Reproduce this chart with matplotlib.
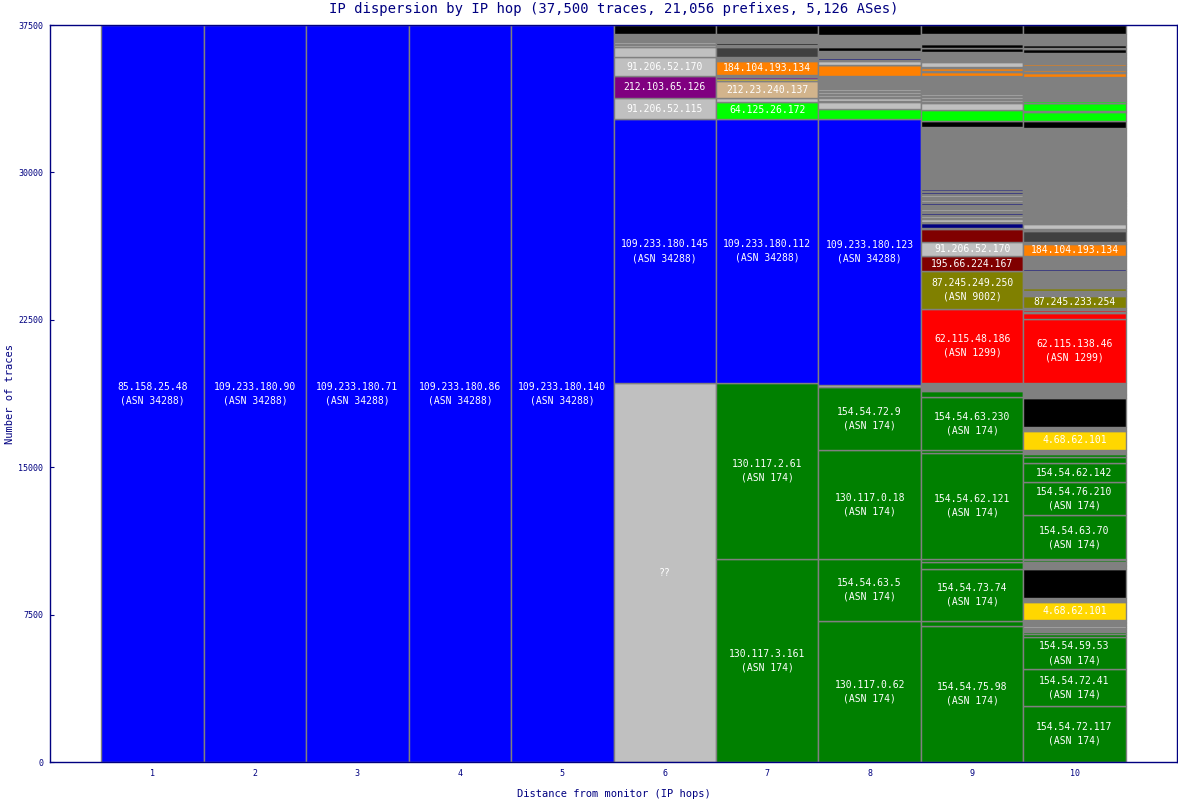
import matplotlib
matplotlib.use("Agg")
import matplotlib.pyplot as plt

# ---------------- data ----------------
hops = [1, 2, 3, 4, 5, 6, 7, 8, 9, 10]
total_traces = 37500
y_ticks = [0, 7500, 15000, 22500, 30000, 37500]

# group code -> colour (one colour per AS / category)
palette = {'b': '#0000ff', 'g': '#008000', 's': '#c0c0c0', 'G': '#808080',
           'k': '#000000', 'n': '#000080', 'r': '#ff0000', 'm': '#800000',
           'o': '#808000', 'O': '#ff8000', 'p': '#800080', 't': '#d2b48c',
           'l': '#00ff00', 'y': '#ffd700', 'd': '#404040'}

# segments per hop, bottom -> top: (traces, group, label)
hop1 = [(37500, 'b', '85.158.25.48\n(ASN 34288)')]
hop2 = [(37500, 'b', '109.233.180.90\n(ASN 34288)')]
hop3 = [(37500, 'b', '109.233.180.71\n(ASN 34288)')]
hop4 = [(37500, 'b', '109.233.180.86\n(ASN 34288)')]
hop5 = [(37500, 'b', '109.233.180.140\n(ASN 34288)')]

hop6 = [(19280, 's', '??'), (13420, 'b', '109.233.180.145\n(ASN 34288)'),
        (1100, 's', '91.206.52.115'), (1120, 'p', '212.103.65.126'),
        (935, 's', '91.206.52.170'), (540, 's', ''),
        (85, 's', ''), (75, 'G', ''), (100, 's', ''), (100, 'G', ''),
        (50, 's', ''), (230, 'G', ''), (465, 'k', '')]

hop7 = [(10330, 'g', '130.117.3.161\n(ASN 174)'), (8955, 'g', '130.117.2.61\n(ASN 174)'),
        (13420, 'b', '109.233.180.112\n(ASN 34288)'), (895, 'l', '64.125.26.172'),
        (175, 's', ''), (880, 't', '212.23.240.137'), (100, 'y', ''), (75, 'p', ''),
        (125, 'G', ''), (730, 'O', '184.104.193.134'), (60, 'G', ''), (75, 'O', ''),
        (35, 'G', ''), (540, 'd', ''), (110, 'G', ''), (75, 'k', ''),
        (460, 'G', ''), (460, 'k', '')]

hop8 = [(7175, 'g', '130.117.0.62\n(ASN 174)'), (3155, 'g', '154.54.63.5\n(ASN 174)'),
        (5530, 'g', '130.117.0.18\n(ASN 174)'), (3205, 'g', '154.54.72.9\n(ASN 174)'),
        (130, 's', ''), (13505, 'b', '109.233.180.123\n(ASN 34288)'),
        (510, 'l', ''), (380, 's', ''),
        (60, 'G', ''), (125, 's', ''), (50, 'G', ''), (125, 's', ''),
        (50, 'G', ''), (100, 's', ''), (50, 'G', ''), (75, 's', ''),
        (560, 'G', ''), (50, 'd', ''), (85, 'G', ''), (525, 'O', ''),
        (35, 'G', ''), (185, 's', ''), (35, 'G', ''), (115, 'n', ''),
        (110, 'G', ''), (50, 'd', ''), (75, 'G', ''), (50, 'd', ''),
        (65, 'G', ''), (205, 'k', ''), (60, 'G', ''), (75, 'k', ''),
        (510, 'G', ''), (475, 'k', '')]

hop9 = [(6920, 'g', '154.54.75.98\n(ASN 174)'), (270, 'g', ''),
        (2615, 'g', '154.54.73.74\n(ASN 174)'), (385, 'g', ''), (120, 'g', ''),
        (5425, 'g', '154.54.62.121\n(ASN 174)'), (120, 'g', ''),
        (2700, 'g', '154.54.63.230\n(ASN 174)'), (335, 'g', ''),
        (240, 'G', ''), (50, 'd', ''), (115, 'G', ''),
        (3750, 'r', '62.115.48.186\n(ASN 1299)'),
        (1935, 'o', '87.245.249.250\n(ASN 9002)'),
        (765, 'm', '195.66.224.167'), (710, 's', '91.206.52.170'),
        (670, 'm', ''), (50, 'G', ''), (245, 'n', ''),
        (60, 'G', ''), (150, 's', ''), (40, 'G', ''), (125, 's', ''),
        (50, 'G', ''), (90, 'n', ''), (90, 'G', ''), (125, 's', ''),
        (70, 'G', ''), (90, 'm', ''), (30, 'G', ''), (90, 'n', ''),
        (70, 'G', ''), (80, 's', ''), (50, 'G', ''), (90, 'n', ''),
        (50, 'G', ''), (90, 's', ''), (40, 'G', ''), (90, 'n', ''),
        (50, 'G', ''), (90, 'n', ''), (40, 'G', ''),
        (3140, 'G', ''), (320, 'k', ''), (530, 'l', ''), (380, 's', ''),
        (60, 'G', ''), (100, 's', ''), (50, 'G', ''), (75, 's', ''),
        (50, 'G', ''), (100, 's', ''), (150, 'G', ''),
        (765, 'G', ''), (220, 'O', ''), (70, 'G', ''), (130, 'O', ''),
        (50, 'G', ''), (255, 's', ''), (50, 'G', ''), (60, 'O', ''),
        (180, 'G', ''), (50, 'd', ''), (100, 'G', ''), (50, 'd', ''),
        (205, 'k', ''), (35, 'G', ''), (170, 'k', ''), (510, 'G', ''),
        (475, 'k', '')]

hop10 = [(2850, 'g', '154.54.72.117\n(ASN 174)'), (1880, 'g', '154.54.72.41\n(ASN 174)'),
         (1610, 'g', '154.54.59.53\n(ASN 174)'), (170, 'g', ''), (115, 'g', ''),
         (215, 'G', ''), (75, 's', ''), (180, 'G', ''), (50, 'k', ''), (75, 'G', ''),
         (930, 'y', '4.68.62.101'), (175, 'G', ''), (1475, 'k', ''),
         (170, 'G', ''), (75, 'g', ''), (125, 'G', ''), (100, 'g', ''), (35, 'G', ''),
         (2255, 'g', '154.54.63.70\n(ASN 174)'), (1665, 'g', '154.54.76.210\n(ASN 174)'),
         (1000, 'g', '154.54.62.142'), (275, 'g', ''), (170, 'g', ''),
         (205, 'G', ''), (980, 'y', '4.68.62.101'), (175, 'G', ''), (1505, 'k', ''),
         (135, 'G', ''), (50, 'd', ''), (560, 'G', ''),
         (3255, 'r', '62.115.138.46\n(ASN 1299)'), (320, 'r', ''),
         (60, 'G', ''), (100, 'r', ''), (75, 'G', ''),
         (610, 'o', '87.245.233.254'), (255, 'G', ''), (170, 'o', ''), (85, 'G', ''),
         (75, 'o', ''), (100, 'G', ''), (50, 'o', ''), (560, 'G', ''), (75, 'n', ''),
         (700, 'G', ''), (590, 'O', '184.104.193.134'), (85, 'G', ''), (560, 'd', ''),
         (115, 'G', ''), (255, 's', ''),
         (440, 'G', ''), (50, 'd', ''), (100, 'G', ''), (50, 'd', ''), (75, 'G', ''),
         (50, 'd', ''), (125, 'G', ''), (50, 'd', ''), (100, 'G', ''), (50, 's', ''),
         (75, 'G', ''), (50, 'd', ''), (205, 'G', ''), (50, 'd', ''), (75, 'G', ''),
         (50, 's', ''),
         (3305, 'G', ''), (320, 'k', ''), (495, 'l', ''), (50, 'G', ''), (370, 'l', ''),
         (35, 'G', ''), (100, 'l', ''), (1220, 'G', ''), (170, 'O', ''),
         (80, 'G', ''), (80, 'O', ''), (200, 'G', ''), (145, 'O', ''), (290, 'G', ''),
         (50, 'd', ''), (75, 'G', ''), (50, 'd', ''), (90, 'G', ''), (205, 'k', ''),
         (35, 'G', ''), (170, 'k', ''), (520, 'G', ''), (475, 'k', '')]

all_hops = [hop1, hop2, hop3, hop4, hop5, hop6, hop7, hop8, hop9, hop10]

title = "IP dispersion by IP hop (37,500 traces, 21,056 prefixes, 5,126 ASes)"
xlabel = "Distance from monitor (IP hops)"
ylabel = "Number of traces"

# ---------------- drawing ----------------
NAVY = '#000080'
MONO = 'DejaVu Sans Mono'

fig = plt.figure(figsize=(11.78, 8.0), dpi=100)
ax = fig.add_axes([50 / 1178, 38 / 800, 1127 / 1178, 737 / 800])

for hop, segs in zip(hops, all_hops):
    bottom = 0
    for count, grp, label in segs:
        ax.bar(hop, count, bottom=bottom, width=1.0, color=palette[grp],
               edgecolor='#808080', linewidth=1.0, align='center')
        if label:
            ax.text(hop, bottom + count / 2, label, ha='center', va='center',
                    color='white', fontsize=7, family=MONO, linespacing=1.45)
        bottom += count

ax.set_xlim(0, 11)
ax.set_ylim(0, total_traces)
ax.set_xticks(hops)
ax.set_xticklabels([str(h) for h in hops])
ax.set_yticks(y_ticks)
ax.set_yticklabels([str(v) for v in y_ticks])
ax.tick_params(axis='x', length=0, pad=5, labelsize=6, labelcolor=NAVY)
ax.tick_params(axis='y', direction='in', length=3, width=0.8, color=NAVY,
               pad=5, labelsize=6, labelcolor=NAVY)
for lab in ax.get_xticklabels() + ax.get_yticklabels():
    lab.set_family(MONO)

for sp in ax.spines.values():
    sp.set_color(NAVY)
    sp.set_linewidth(1.0)

ax.set_title(title, fontsize=10, color=NAVY, family=MONO, pad=9)
ax.set_xlabel(xlabel, fontsize=7.5, color=NAVY, family=MONO, labelpad=8)
ax.set_ylabel(ylabel, fontsize=7.5, color=NAVY, family=MONO, labelpad=2)

fig.savefig("out.png", dpi=100)
